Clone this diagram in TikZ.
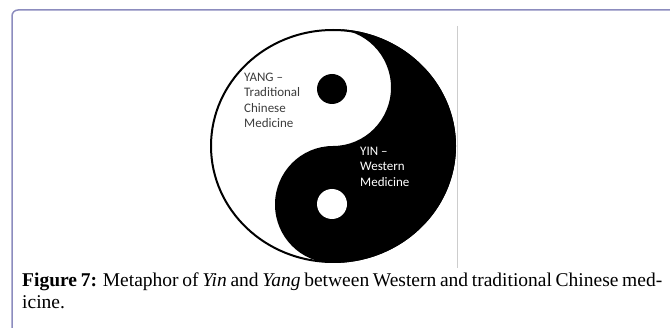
\documentclass[tikz,border=0pt]{standalone}
\usepackage{fontspec}
\setmainfont{Liberation Serif}
\newfontfamily\yyfont{Carlito}
\definecolor{framec}{RGB}{140,140,190}
\definecolor{yangtext}{RGB}{60,60,60}
\definecolor{sepline}{RGB}{205,205,205}
\begin{document}
\begin{tikzpicture}[x=1pt,y=1pt,
  framestyle/.style={draw=framec, line width=1.5pt, rounded corners=6pt},
  yylabel/.style={anchor=north west, inner sep=0pt, align=left, font=\yyfont\fontsize{13}{15.3}\selectfont},
  captext/.style={anchor=base west, inner sep=0pt, font=\fontsize{19.5}{21}\selectfont}]
\useasboundingbox (0,0) rectangle (670,327);
% frame
\draw[framestyle] (12,-5) -- (12,317) -- (676,317);
% separator line
\draw[sepline, line width=0.8pt] (457,301) -- (457,59);
% yin (black) region
\fill[black] (333,298)
  arc[start angle=90, end angle=-90, x radius=123, y radius=117]
  arc[start angle=-90, end angle=-270, x radius=58, y radius=58.5]
  arc[start angle=-90, end angle=90, x radius=58, y radius=58.5]
  -- cycle;
% outline
\draw[black, line width=2pt] (333,181) ellipse[x radius=122, y radius=116];
% dots
\fill[black] (332,238) circle[radius=15];
\fill[white] (332,123) circle[radius=15];
% labels
\node[yylabel, text=yangtext] (yang) at (244,254) {YANG –\\Traditional\\Chinese\\Medicine};
\node[yylabel, text=white] (yin) at (360,180) {YIN –\\Western\\Medicine};
% caption
\node[captext] (cap1) at (22,40) {\makebox[640pt][s]{\textbf{Figure 7:} Metaphor of \textit{Yin} and \textit{Yang} between Western and traditional Chinese med-}};
\node[captext] (cap2) at (22,19) {icine.};
\end{tikzpicture}
\end{document}
